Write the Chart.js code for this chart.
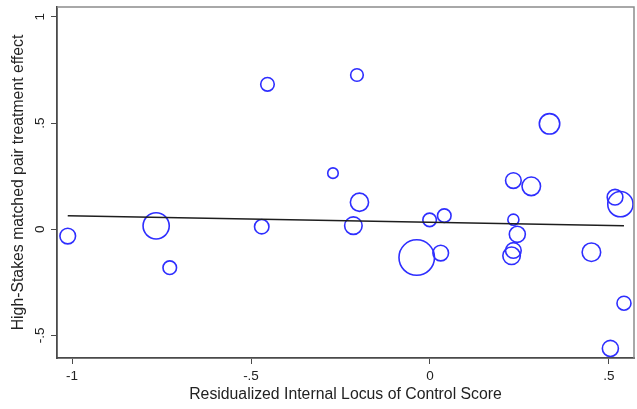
<!DOCTYPE html>
<html>
<head>
<meta charset="utf-8">
<script src="https://cdn.jsdelivr.net/npm/chart.js@4.4.1/dist/chart.umd.min.js"></script>
<style>
  html, body { margin: 0; padding: 0; background: #ffffff; }
  #wrap { width: 637px; height: 409px; }
</style>
</head>
<body>
<div id="wrap"><canvas id="c" width="637" height="409"></canvas></div>
<script>
// Residualized internal locus of control score per matched pair
const locusScore = [
  -1.012, -0.765, -0.727, -0.470, -0.454, -0.204, -0.271, 0.334, 0.233,
  0.283, 0.517, 0.532, -0.197, -0.214, -0.001, 0.040, -0.037, 0.030,
  0.233, 0.244, 0.233, 0.228, 0.451, 0.542, 0.504
];
// High-stakes matched pair treatment effect
const treatmentEffect = [
  -0.032, 0.016, -0.181, 0.012, 0.682, 0.726, 0.264, 0.496, 0.229,
  0.202, 0.151, 0.118, 0.127, 0.017, 0.044, 0.064, -0.133, -0.112,
  0.045, -0.024, -0.100, -0.125, -0.108, -0.348, -0.561
];
// Analytic weight of each pair (marker area)
const pairWeight = [
  20, 56, 15, 17, 15, 13, 9, 34, 20,
  28, 20, 52, 27, 25, 15, 15, 103, 20,
  10, 21, 20, 25, 28, 16, 21
];
// Weighted linear fit, evaluated at the ends of the data range
const fitX = [-1.012, 0.542];
const fitY = [0.064, 0.017];

const xTickValues = [-1, -0.5, 0, 0.5];
const xTickLabels = ['-1', '-.5', '0', '.5'];
const yTickValues = [-0.5, 0, 0.5, 1];
const yTickLabels = ['-.5', '0', '.5', '1'];

const MARKER_SCALE = 1.75;
const bubbles = locusScore.map((x, i) => ({
  x: x,
  y: treatmentEffect[i],
  r: MARKER_SCALE * Math.sqrt(pairWeight[i])
}));
const fitLine = fitX.map((x, i) => ({ x: x, y: fitY[i] }));

const FONT = 'Liberation Sans, Arial, Helvetica, sans-serif';
const INK = '#222222';
const AXIS = '#4a4a4a';

// Light outline on the top and right edges of the plot region
const plotFrame = {
  id: 'plotFrame',
  afterDatasetsDraw(chart) {
    const { ctx, chartArea: a } = chart;
    ctx.save();
    ctx.strokeStyle = '#8c8c8c';
    ctx.lineWidth = 1.5;
    ctx.beginPath();
    ctx.moveTo(a.left, a.top);
    ctx.lineTo(a.right, a.top);
    ctx.lineTo(a.right, a.bottom);
    ctx.stroke();
    ctx.restore();
  }
};

function fixedTicks(values) {
  return (scale) => { scale.ticks = values.map(v => ({ value: v })); };
}
function tickLabel(values, labels) {
  return (v) => {
    const i = values.findIndex(t => Math.abs(t - v) < 1e-9);
    return i >= 0 ? labels[i] : '';
  };
}
function fixSize(prop, size) {
  return (s) => {
    s[prop] = size;
    s.paddingLeft = 0; s.paddingRight = 0; s.paddingTop = 0; s.paddingBottom = 0;
  };
}

new Chart(document.getElementById('c'), {
  type: 'bubble',
  data: {
    datasets: [
      {
        type: 'line',
        data: fitLine,
        borderColor: '#1e1e1e',
        borderWidth: 1.5,
        pointRadius: 0,
        fill: false,
        order: 0
      },
      {
        type: 'bubble',
        data: bubbles,
        backgroundColor: 'rgba(0,0,0,0)',
        borderColor: '#2e2eff',
        borderWidth: 1.6,
        order: 1
      }
    ]
  },
  options: {
    responsive: false,
    animation: false,
    devicePixelRatio: 1,
    layout: { autoPadding: false, padding: { top: 7, right: 3, left: 0, bottom: 0 } },
    plugins: {
      legend: { display: false },
      tooltip: { enabled: false }
    },
    scales: {
      x: {
        type: 'linear',
        min: -1.042,
        max: 0.570,
        afterBuildTicks: fixedTicks(xTickValues),
        afterFit: fixSize('height', 51),
        grid: { drawOnChartArea: false, drawTicks: true, tickLength: 6, color: AXIS, lineWidth: 1 },
        border: { display: true, color: AXIS, width: 1.8 },
        ticks: {
          callback: tickLabel(xTickValues, xTickLabels),
          color: INK,
          padding: 4,
          maxRotation: 0,
          font: { family: FONT, size: 13.5 }
        },
        title: {
          display: true,
          text: 'Residualized Internal Locus of Control Score',
          color: INK,
          font: { family: FONT, size: 15.8 },
          padding: { top: 0, bottom: 5 }
        }
      },
      y: {
        type: 'linear',
        min: -0.606,
        max: 1.046,
        afterBuildTicks: fixedTicks(yTickValues),
        afterFit: fixSize('width', 57),
        grid: { drawOnChartArea: false, drawTicks: true, tickLength: 6, color: AXIS, lineWidth: 1 },
        border: { display: true, color: AXIS, width: 1.8 },
        ticks: {
          callback: tickLabel(yTickValues, yTickLabels),
          color: INK,
          padding: 2.5,
          minRotation: 90,
          maxRotation: 90,
          crossAlign: 'center',
          font: { family: FONT, size: 13.5 }
        },
        title: {
          display: true,
          text: 'High-Stakes matched pair treatment effect',
          color: INK,
          font: { family: FONT, size: 15.8 },
          padding: { top: 8.8, bottom: 0 }
        }
      }
    }
  },
  plugins: [plotFrame]
});
</script>
</body>
</html>
